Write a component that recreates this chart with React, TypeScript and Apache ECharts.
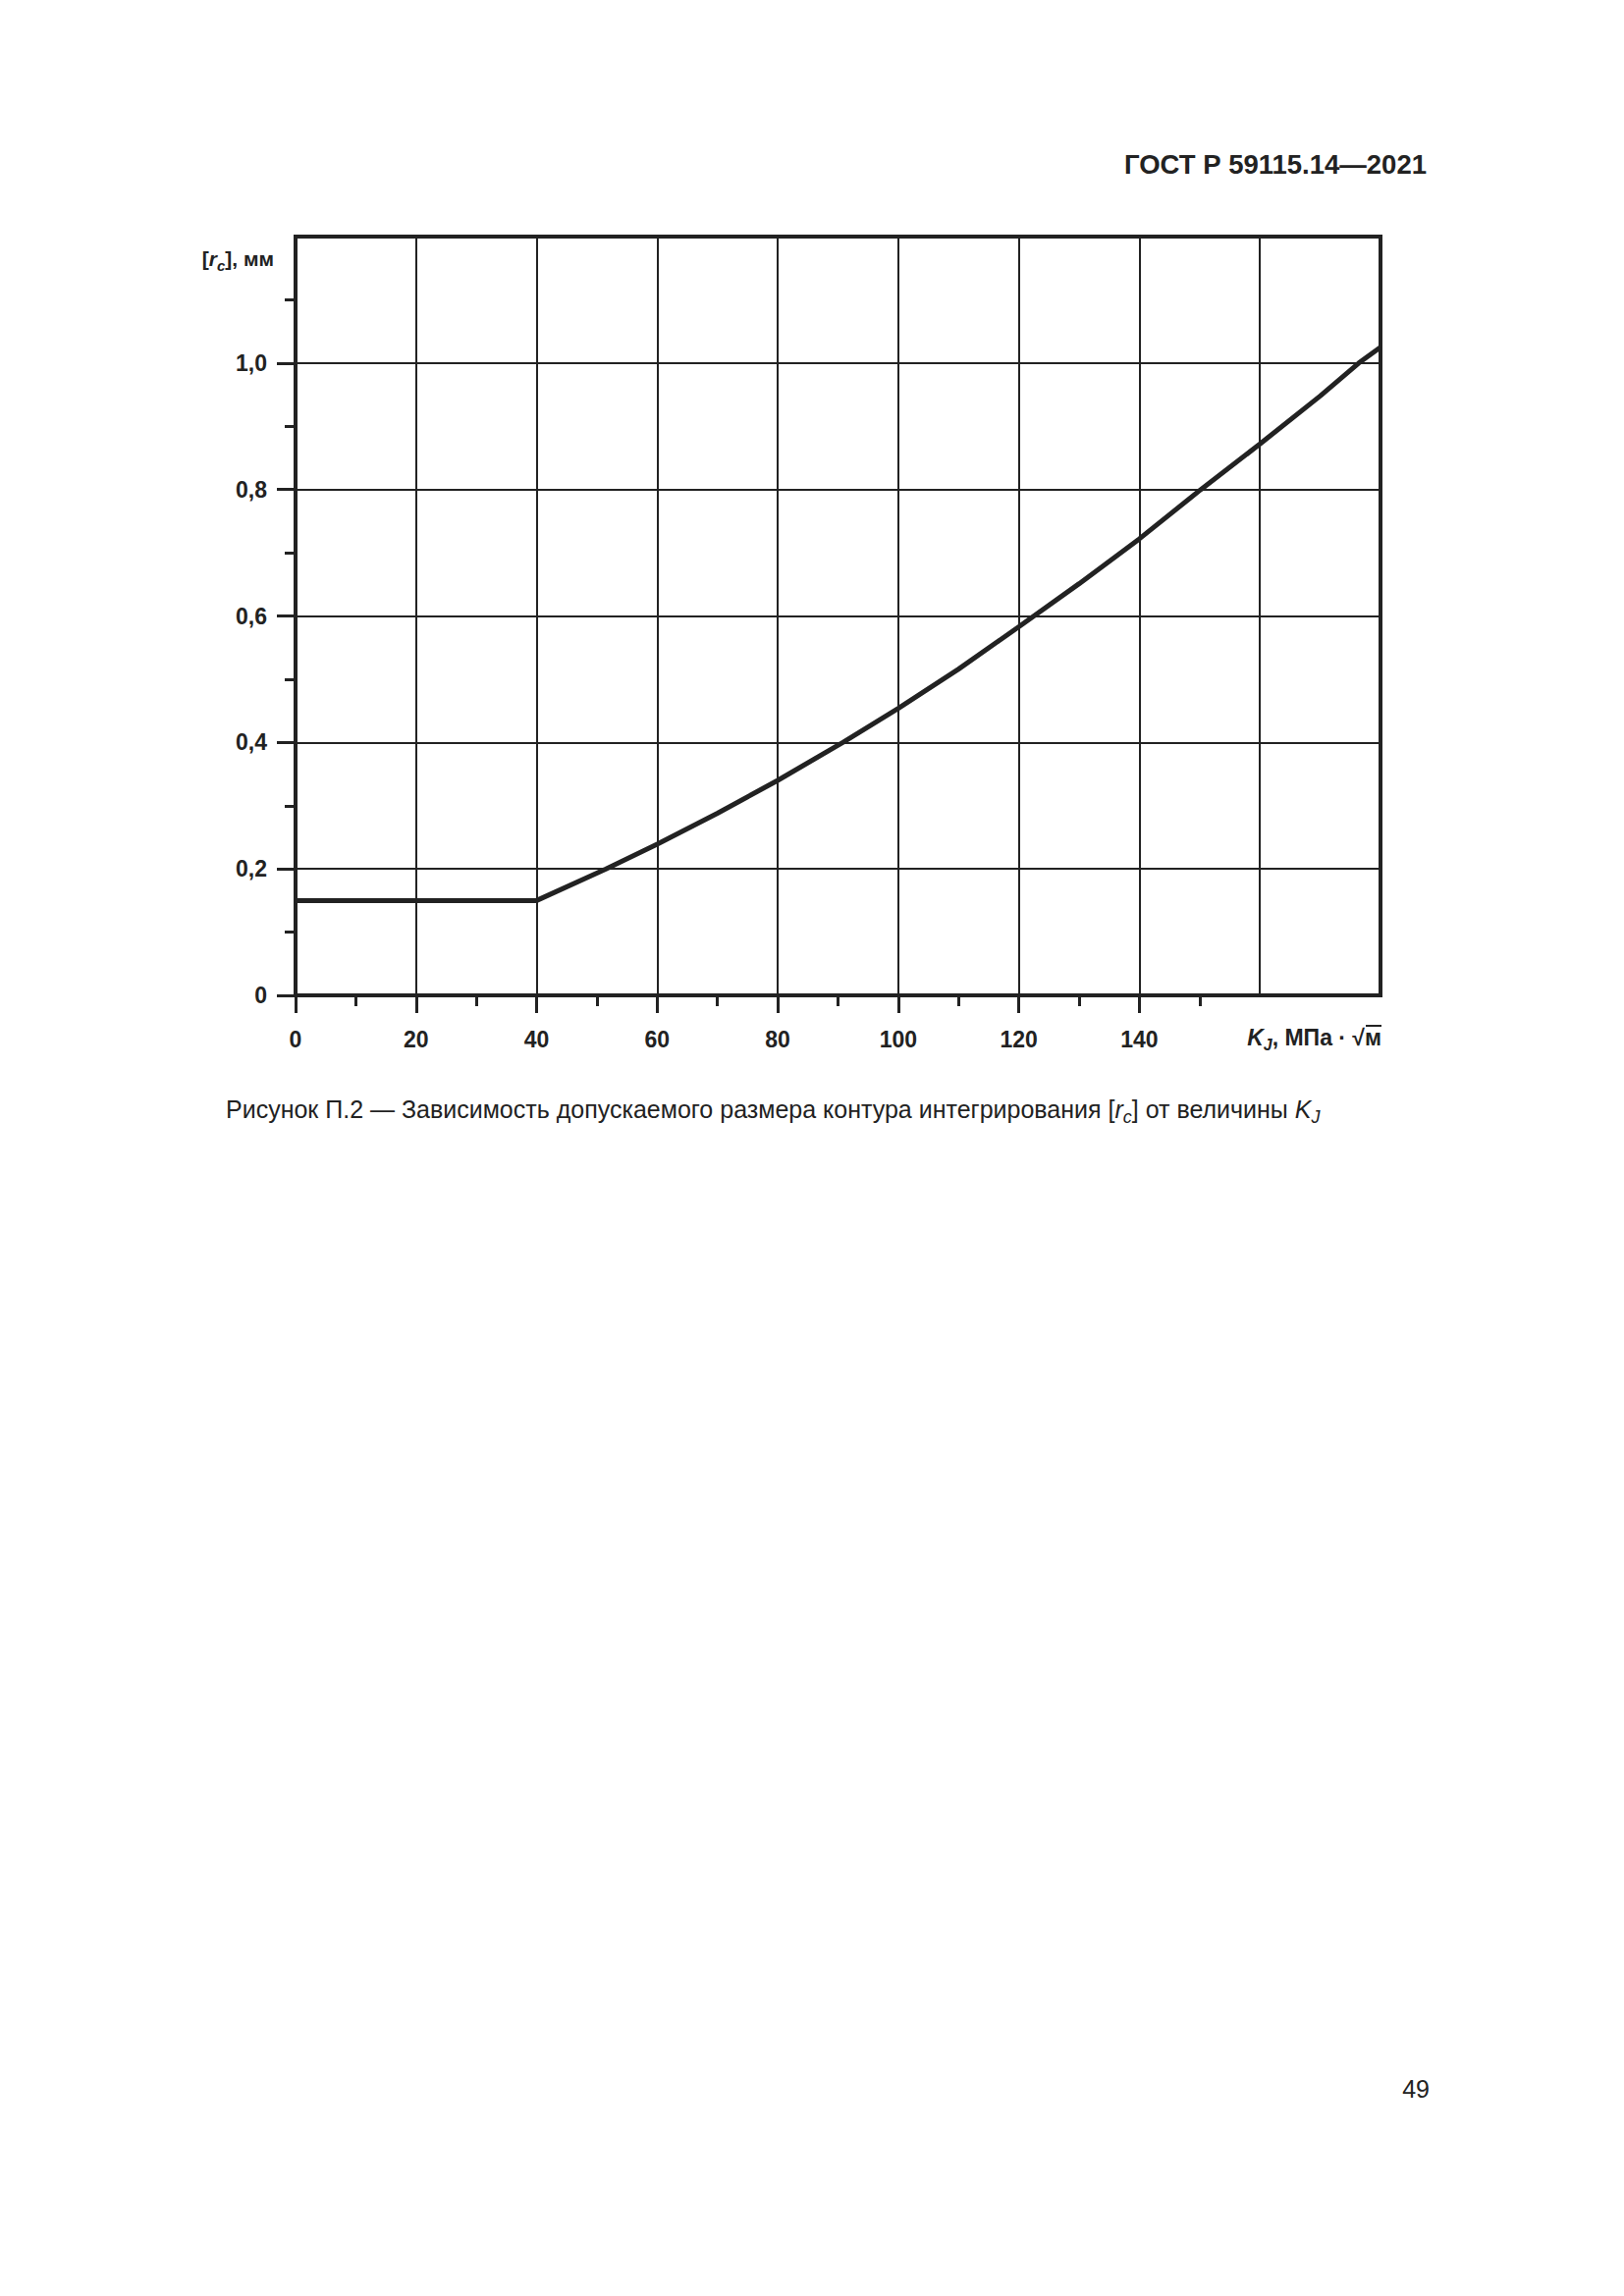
import React, { useEffect, useRef } from 'react';
import * as echarts from 'echarts';

// K_J, МПа·√м
const kjValues = [0, 40, 51.5, 60, 70, 80, 90.8, 100, 110, 120, 130, 140, 150.2, 160, 170, 176.4, 180];
// [r_c], мм
const rcValues = [0.15, 0.15, 0.2, 0.239, 0.288, 0.34, 0.4, 0.454, 0.516, 0.583, 0.651, 0.722, 0.8, 0.872, 0.948, 1.0, 1.025];

const xMajorTicks = [0, 20, 40, 60, 80, 100, 120, 140];
const xMinorTicks = [10, 30, 50, 70, 90, 110, 130, 150];
const yMajorTicks = [0, 0.2, 0.4, 0.6, 0.8, 1.0];
const yMinorTicks = [0.1, 0.3, 0.5, 0.7, 0.9, 1.1];

const INK = '#222';
const FONT = '"Liberation Sans", Arial, sans-serif';

const tickAxisX = (values: number[], len: number) => ({
    type: 'value',
    position: 'bottom',
    min: 0,
    max: 180,
    axisLine: { show: false },
    splitLine: { show: false },
    axisLabel: { show: false },
    axisTick: { show: true, customValues: values, length: len, lineStyle: { color: INK, width: 3 } }
});

const tickAxisY = (values: number[], len: number) => ({
    type: 'value',
    position: 'left',
    min: 0,
    max: 1.2,
    axisLine: { show: false },
    splitLine: { show: false },
    axisLabel: { show: false },
    axisTick: { show: true, customValues: values, length: len, lineStyle: { color: INK, width: 3 } }
});

// rich styles for italic letter + lowered subscript
const richSub = (size: number, bold: boolean) => ({
    i: { fontStyle: 'italic', fontWeight: bold ? 'bold' : 'normal', fontSize: size, fontFamily: FONT, fill: INK, lineHeight: size + 8 },
    s: {
        fontStyle: 'italic',
        fontWeight: bold ? 'bold' : 'normal',
        fontSize: Math.round(size * 0.7),
        fontFamily: FONT,
        fill: INK,
        lineHeight: Math.round(size * 0.7),
        verticalAlign: 'bottom'
    }
});

const App = () => {
    const chartRef = useRef<HTMLDivElement>(null);

    useEffect(() => {
        if (!chartRef.current) return;
        const myChart = echarts.init(chartRef.current, undefined, { renderer: 'svg' });

        const option = {
            animation: false,
            backgroundColor: '#fff',
            grid: {
                left: 301,
                top: 241,
                right: 248,
                bottom: 1325,
                show: true,
                borderColor: INK,
                borderWidth: 4,
                containLabel: false
            },
            xAxis: [
                {
                    type: 'value',
                    position: 'bottom',
                    min: 0,
                    max: 180,
                    interval: 20,
                    axisLine: { show: true, lineStyle: { color: INK, width: 4 } },
                    axisTick: { show: false },
                    splitLine: { show: true, lineStyle: { color: INK, width: 2 } },
                    axisLabel: {
                        margin: 33,
                        color: INK,
                        fontFamily: FONT,
                        fontWeight: 'bold',
                        fontSize: 23,
                        formatter: (v: number) => (v > 150 ? '' : String(v))
                    }
                },
                tickAxisX(xMajorTicks, 18),
                tickAxisX(xMinorTicks, 11)
            ],
            yAxis: [
                {
                    type: 'value',
                    position: 'left',
                    min: 0,
                    max: 1.2,
                    interval: 0.2,
                    axisLine: { show: true, lineStyle: { color: INK, width: 4 } },
                    axisTick: { show: false },
                    splitLine: { show: true, lineStyle: { color: INK, width: 2 } },
                    axisLabel: {
                        margin: 29,
                        color: INK,
                        fontFamily: FONT,
                        fontWeight: 'bold',
                        fontSize: 23,
                        formatter: (v: number) => {
                            if (v === 0) return '0';
                            if (v > 1.1) return '';
                            return v.toFixed(1).replace('.', ',');
                        }
                    }
                },
                tickAxisY(yMajorTicks, 19),
                tickAxisY(yMinorTicks, 11)
            ],
            series: [
                {
                    type: 'line',
                    xAxisIndex: 0,
                    yAxisIndex: 0,
                    data: kjValues.map((k, i) => [k, rcValues[i]]),
                    showSymbol: false,
                    lineStyle: { color: INK, width: 5 },
                    z: 5
                }
            ],
            graphic: [
                {
                    type: 'text',
                    x: 1453,
                    y: 167,
                    style: {
                        text: 'ГОСТ Р 59115.14—2021',
                        fill: INK,
                        font: `bold 27.5px ${FONT}`,
                        align: 'right',
                        verticalAlign: 'middle'
                    }
                },
                {
                    type: 'text',
                    x: 279,
                    y: 263,
                    style: {
                        text: '[{i|r}{s|c}], мм',
                        fill: INK,
                        font: `bold 21px ${FONT}`,
                        lineHeight: 29,
                        align: 'right',
                        verticalAlign: 'middle',
                        rich: richSub(21, true)
                    }
                },
                {
                    type: 'text',
                    x: 1407,
                    y: 1057,
                    style: {
                        text: '{i|K}{s|J}, МПа · √м',
                        fill: INK,
                        font: `bold 23px ${FONT}`,
                        lineHeight: 31,
                        align: 'right',
                        verticalAlign: 'middle',
                        rich: richSub(23, true)
                    }
                },
                {
                    type: 'line',
                    shape: { x1: 1391, y1: 1045, x2: 1407, y2: 1045 },
                    style: { stroke: INK, lineWidth: 2 }
                },
                {
                    type: 'text',
                    x: 230,
                    y: 1130,
                    style: {
                        text: 'Рисунок П.2 — Зависимость допускаемого размера контура интегрирования [{i|r}{s|c}] от величины {i|K}{s|J}',
                        fill: INK,
                        font: `25px ${FONT}`,
                        lineHeight: 33,
                        align: 'left',
                        verticalAlign: 'middle',
                        rich: richSub(25, false)
                    }
                },
                {
                    type: 'text',
                    x: 1456,
                    y: 2128,
                    style: {
                        text: '49',
                        fill: INK,
                        font: `25px ${FONT}`,
                        align: 'right',
                        verticalAlign: 'middle'
                    }
                }
            ]
        };

        myChart.setOption(option);

        return () => {
            myChart.dispose();
        };
    }, []);

    return (
        <div
            ref={chartRef}
            style={{ position: 'absolute', left: 0, top: 0, width: '1654px', height: '2339px' }}
        />
    );
};

export default App;
